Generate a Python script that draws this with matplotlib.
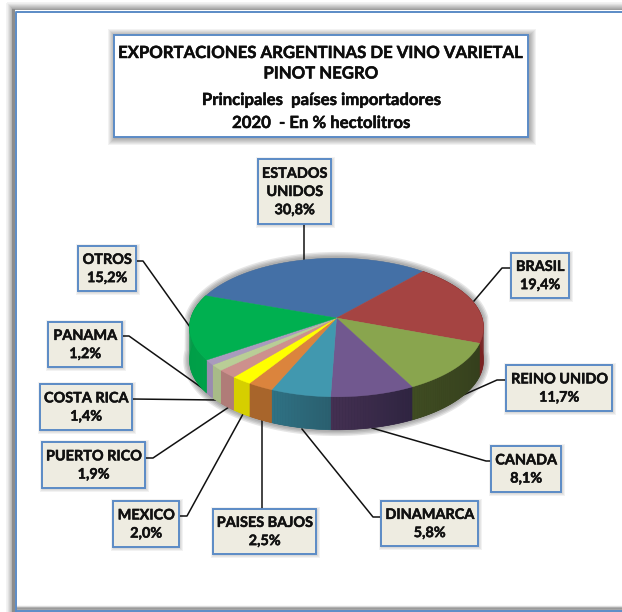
import numpy as np
import matplotlib
matplotlib.use("Agg")
import matplotlib.pyplot as plt
import matplotlib.patheffects as pe
from matplotlib.colors import to_rgb
from matplotlib.patches import Polygon, Rectangle

plt.rcParams["font.family"] = ["Lato", "DejaVu Sans"]

# Data
paises = ["ESTADOS\nUNIDOS", "BRASIL", "REINO UNIDO", "CANADA", "DINAMARCA", "PAISES BAJOS",
          "MEXICO", "PUERTO RICO", "COSTA RICA", "PANAMA", "OTROS"]
valores = [30.8, 19.4, 11.7, 8.1, 5.8, 2.5, 2.0, 1.9, 1.4, 1.2, 15.2]

titulo = ["EXPORTACIONES ARGENTINAS DE VINO VARIETAL", "PINOT NEGRO",
          "Principales  países importadores", "2020  - En % hectolitros"]

colores = ["#4470A6", "#A54442", "#89A54E", "#71588F", "#4198AF", "#DB843D",
           "#FFFF00", "#CD908D", "#B9CD96", "#A99BBD", "#00B050"]
# wall colours, start and end of each slice going clockwise
pared_ini = ["#2F4F78", "#7A2222", "#343E1C", "#2E2440", "#2A5E6E", "#A8652B",
             "#D6CF00", "#B07C78", "#A8BB88", "#9A8CB0", "#00A24A"]
pared_fin = ["#2F4F78", "#7A2222", "#3F4C22", "#443052", "#2F7285", "#A8652B",
             "#D6CF00", "#B07C78", "#A8BB88", "#9A8CB0", "#009A45"]

# box per label: left, top, right, bottom (pixels)
cajas = [(258, 159, 331, 224), (511, 253, 569, 298), (506, 365, 612, 411), (491, 446, 561, 492),
         (381, 501, 478, 546), (213, 509, 316, 554), (113, 501, 179, 547), (42, 442, 145, 488),
         (40, 384, 132, 430), (48, 322, 122, 367), (78, 246, 136, 291)]
lineas = [[(303.5, 224), (303.5, 260)],
          [(511, 268), (502, 268), (474, 301)],
          [(506, 380), (497, 380), (452, 400)],
          [(491, 461), (486, 461), (372, 428)],
          [(381, 517), (373, 517), (302, 429)],
          [(262, 509), (262, 420)],
          [(179, 516), (187, 516), (243, 414)],
          [(145, 458), (153, 458), (229, 407)],
          [(132, 399), (218, 400)],
          [(122, 336), (129, 336), (212, 395)],
          [(136, 261), (143, 261), (190, 327)]]

# Pie geometry, the disk is seen with some perspective
CX, CY = 336.5, 318
RX, RY = 145.6, 68
K = 0.137
FONDO = 33
INICIO = -70

# Lato bold is a bit lighter than the original face
GRUESO = [pe.withStroke(linewidth=0.35, foreground="#111111")]


def proyecta(ang):
    a = np.radians(ang)
    u, v = np.sin(a), np.cos(a)
    w = 1 + K * v
    return CX + RX * u / w, CY - RY * v / w


fig = plt.figure(figsize=(6.22, 6.12), dpi=100)
ax = fig.add_axes([0, 0, 1, 1])
ax.set_xlim(0, 622)
ax.set_ylim(612, 0)
ax.axis("off")

# outer frame with its shadow
for i in range(9):
    g = 0.5 + 0.055 * i
    ax.add_patch(Rectangle((15 - i, 11 - i), 640, 640, fc="none", ec=str(g), lw=1.1, zorder=1))
ax.add_patch(Rectangle((14, 10), 640, 640, fc="white", ec="none", zorder=1.1))
ax.plot([17, 622], [607.5, 607.5], color="#9a9a9a", lw=2, zorder=1.2)
ax.plot([17, 622], [605.8, 605.8], color="#dddddd", lw=1, zorder=1.2)
ax.plot([15.5, 15.5, 622], [612, 11.5, 11.5], color="#5B8BC6", lw=1.4, zorder=1.3)
ax.plot([15.5, 622], [610.5, 610.5], color="#5B8BC6", lw=1.4, zorder=1.3)
ax.plot([13.2, 13.2], [10, 612], color="#8c8c8c", lw=2.2, zorder=1.2)


def caja(x0, y0, x1, y1, fc, lw=1.4, sombra=5):
    for i in range(sombra, 0, -1):
        ax.add_patch(Rectangle((x0 - i + 1, y0 - i + 1), x1 - x0 + 2 * i, y1 - y0 + 2 * i,
                               fc="#000000", ec="none", alpha=0.05, zorder=5))
    ax.add_patch(Rectangle((x0, y0), x1 - x0, y1 - y0, fc=fc, ec="#5B8BC6", lw=lw, zorder=6))


# title
caja(114, 35, 528, 137, "white", sombra=7)
for txt, y in zip(titulo, [53, 73.5, 100, 123]):
    ax.text(321, y, txt, ha="center", va="center", fontsize=12.05, fontweight="bold",
            color="#0d0d0d", zorder=7, path_effects=GRUESO)

# slice limits come from the values
acum = np.cumsum([0] + valores)
limites = INICIO + 360 * acum / acum[-1]

# soft shadow of the pie body
ts = np.linspace(0, 360, 361)
xo, yo = proyecta(ts)
cuerpo = np.c_[xo, yo + FONDO * (np.cos(np.radians(ts)) < 0)]
for lw in [9, 7, 5, 3]:
    ax.add_patch(Polygon(cuerpo, closed=True, fc="#444444", ec="#444444", lw=lw, alpha=0.13,
                         joinstyle="round", zorder=2))

# walls: a flat base per slice, then strips for the gradient
tiras = []
for i in range(len(valores)):
    a0, a1 = limites[i], limites[i + 1]
    n = max(int(a1 - a0), 1)
    t = np.linspace(a0, a1, n + 1)
    c0, c1 = np.array(to_rgb(pared_ini[i])), np.array(to_rgb(pared_fin[i]))
    if np.cos(np.radians((a0 + a1) / 2)) < 0.3:
        xb, yb = proyecta(t)
        base = np.r_[np.c_[xb, yb], np.c_[xb, yb + FONDO][::-1]]
        ax.add_patch(Polygon(base, closed=True, fc=(c0 + c1) / 2, ec=(c0 + c1) / 2, lw=0.5, zorder=3))
    for j in range(n):
        tiras.append((t[j], t[j + 1], c0 + (c1 - c0) * (j + 0.5) / n))
for a0, a1, col in tiras:
    if np.cos(np.radians((a0 + a1) / 2)) > 0.3:
        continue
    xa, ya = proyecta(np.array([a0, a1]))
    ax.add_patch(Polygon([(xa[0], ya[0]), (xa[1], ya[1]), (xa[1], ya[1] + FONDO), (xa[0], ya[0] + FONDO)],
                         closed=True, fc=col, ec="none", zorder=3.1))

# top face
for i, col in enumerate(colores):
    t = np.linspace(limites[i], limites[i + 1], max(int(limites[i + 1] - limites[i]) * 2, 2))
    x, y = proyecta(t)
    pts = np.r_[[(CX, CY)], np.c_[x, y]]
    ax.add_patch(Polygon(pts, closed=True, fc=col, ec=col, lw=0.3, zorder=4))

# leader lines and labels
for pts in lineas:
    xs, ys = zip(*pts)
    ax.plot(xs, ys, color="#111111", lw=1.1, zorder=2.5, solid_joinstyle="round")

for nombre, val, (x0, y0, x1, y1) in zip(paises, valores, cajas):
    caja(x0, y0, x1, y1, "#EEECE1", sombra=3)
    txt = nombre + "\n" + f"{val:.1f}%".replace(".", ",")
    ax.text((x0 + x1) / 2, (y0 + y1) / 2 + 0.5, txt, ha="center", va="center", fontsize=10.4,
            fontweight="bold", color="#111111", linespacing=1.62, zorder=7, path_effects=GRUESO)

fig.savefig("out.png", dpi=100)
